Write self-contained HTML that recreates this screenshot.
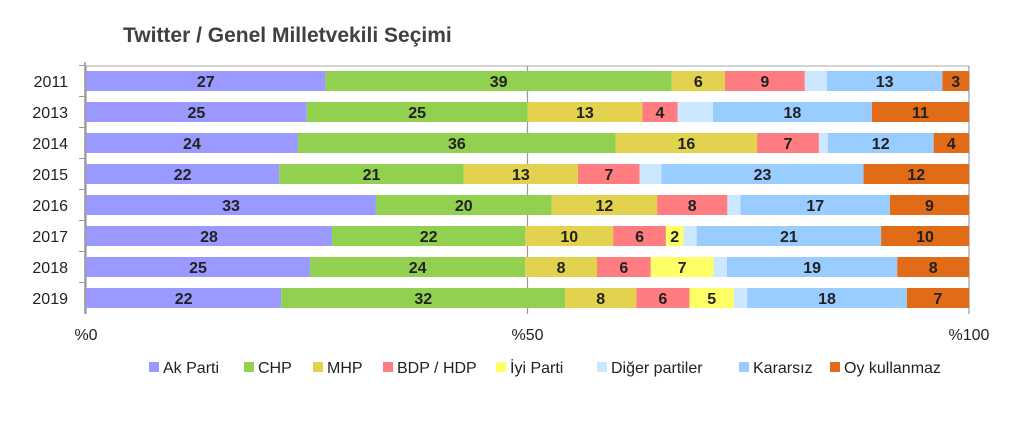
<!DOCTYPE html>
<html><head><meta charset="utf-8"><style>
body{margin:0;background:#fff;width:1024px;height:418px;overflow:hidden;font-family:"Liberation Sans",sans-serif}
</style></head><body>
<svg width="1024" height="418" id="c">
<text x="123" y="42" font-size="21" font-weight="bold" fill="#404040">Twitter / Genel Milletvekili Seçimi</text>
</svg>
<script>
const years=["2011","2013","2014","2015","2016","2017","2018","2019"];
const seriesNames=["Ak Parti","CHP","MHP","BDP / HDP","İyi Parti","Diğer partiler","Kararsız","Oy kullanmaz"];
const akParti=[27,25,24,22,33,28,25,22];
const chp=[39,25,36,21,20,22,24,32];
const mhp=[6,13,16,13,12,10,8,8];
const bdpHdp=[9,4,7,7,8,6,6,6];
const iyiParti=[0,0,0,0,0,2,7,5];
const diger=[2.5,4,1,2.5,1.5,1.5,1.5,1.5];
const kararsiz=[13,18,12,23,17,21,19,18];
const oyKullanmaz=[3,11,4,12,9,10,8,7];
const xTicks=["%0","%50","%100"];
const tickVals=[0,50,100];
const colors=["#9999ff","#92d050","#e2d24e","#ff7c80","#ffff66","#cce8ff","#99ccff","#e26b17"];
const series=[akParti,chp,mhp,bdpHdp,iyiParti,diger,kararsiz,oyKullanmaz];
const svg=document.getElementById('c');const NS="http://www.w3.org/2000/svg";
const X0=86,X1=969,Y0=66,step=31,bh=20;
const xs=v=>X0+(X1-X0)*v/100;
const yc=i=>Y0+15+i*step;
function mk(t,a,p){const e=document.createElementNS(NS,t);for(const k in a)e.setAttribute(k,a[k]);(p||svg).appendChild(e);return e;}
// axes
const ax=mk('line',{x1:X0-1,y1:Y0-4,x2:X0-1,y2:Y0+8*step,stroke:'#999','stroke-width':1.5});


const tl=mk('line',{x1:X0-1,y1:Y0,x2:X1,y2:Y0,stroke:'#aaa','stroke-width':1});


tickVals.forEach((v,i)=>{
 const g=mk('line',{x1:xs(v),y1:Y0,x2:xs(v),y2:Y0+8*step,stroke:'#999','stroke-width':1.2});
 
 
 const t=mk('text',{x:xs(v),y:340,'font-size':16,'text-anchor':'middle',fill:'#222'});t.textContent=xTicks[i];
 
 
});
years.forEach((yr,i)=>{
 const t=mk('text',{x:68,y:yc(i)+6,'font-size':16,'text-anchor':'end',fill:'#222'});t.textContent=yr;
 
 
 const tk=mk('line',{x1:X0-7,y1:yc(i)-15.5,x2:X0-1,y2:yc(i)-15.5,stroke:'#999'});
 
 
 let tot=0;series.forEach(s=>tot+=s[i]);
 let acc=0;
 series.forEach((s,j)=>{
  const v=s[i];if(v<=0)return;
  const a=xs(acc/tot*100),b=xs((acc+v)/tot*100);acc+=v;
  const r=mk('rect',{x:a,y:yc(i)-bh/2,width:b-a,height:bh,fill:colors[j]});
  
  
  if(j!==5){const t=mk('text',{x:(a+b)/2,y:yc(i)+6,'font-size':16,'font-weight':'bold','text-anchor':'middle',fill:'#222'});t.textContent=v;
   
   }
 });
});
const lx=[149,244,313,383,496,597,739,830];
seriesNames.forEach((n,j)=>{
 const r=mk('rect',{x:lx[j],y:362,width:10,height:10,fill:colors[j]});
 
 
 const t=mk('text',{x:lx[j]+14,y:373,'font-size':16,fill:'#222'});t.textContent=n;
 
 
});
</script>
</body></html>
